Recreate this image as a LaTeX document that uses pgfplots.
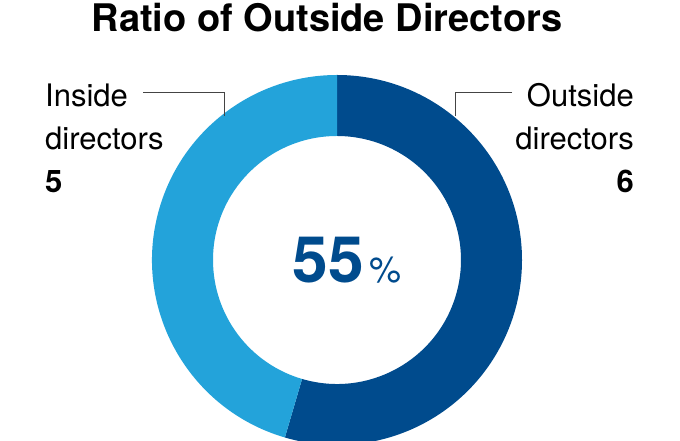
\documentclass[border=0pt]{standalone}
\usepackage{pgfplots}
\pgfplotsset{compat=1.18}
\usepackage{pgfplotstable}
\usetikzlibrary{calc}
\usepackage{fontspec}
\setmainfont{TeX Gyre Heros}

\definecolor{outblue}{HTML}{004B8D}
\definecolor{inblue}{HTML}{23A3DA}
\definecolor{leader}{HTML}{444444}

% directors on the board
\pgfplotstableread{
group   count
Outside 6
Inside  5
}\directors

\pgfplotstablegetelem{0}{count}\of\directors \let\nout=\pgfplotsretval
\pgfplotstablegetelem{1}{count}\of\directors \let\nin=\pgfplotsretval
\pgfmathsetmacro\ntot{\nout+\nin}
\pgfmathsetmacro\aend{90-360*\nout/\ntot}
\pgfmathtruncatemacro\pct{round(100*\nout/\ntot)}

\newcommand\ring[3]{% colour, start angle, end angle
  \fill[#1, overlay] ($(axis cs:337,181)+(#2:185pt)$)
    arc[start angle=#2, end angle=#3, radius=185pt]
    -- ($(axis cs:337,181)+(#3:124pt)$)
    arc[start angle=#3, end angle=#2, radius=124pt] -- cycle;}

\begin{document}
\begin{tikzpicture}
\begin{axis}[
  width=680pt, height=441pt, scale only axis,
  xmin=0, xmax=680, ymin=0, ymax=441,
  hide axis, clip=true
]
  \path (axis cs:0,0) rectangle (axis cs:680,441);
  \begin{scope}
    \clip (axis cs:0,0) rectangle (axis cs:680,441);
    \ring{outblue}{90}{\aend}
    \ring{inblue}{\aend}{-270}
  \end{scope}

  \draw[leader, line width=0.9pt] (axis cs:143,349) -- (axis cs:224,349) -- (axis cs:224,325);
  \draw[leader, line width=0.9pt] (axis cs:512,349) -- (axis cs:455,349) -- (axis cs:455,325);

  \node[anchor=base, inner sep=0] at (axis cs:327,409)
    {\fontsize{38}{44}\selectfont\bfseries Ratio of Outside Directors};

  \node[anchor=base west, inner sep=0] at (axis cs:45,334) {\fontsize{31}{37}\selectfont Inside};
  \node[anchor=base west, inner sep=0] at (axis cs:45,291) {\fontsize{31}{37}\selectfont directors};
  \node[anchor=base west, inner sep=0] at (axis cs:45,248) {\fontsize{31}{37}\selectfont\bfseries\nin};

  \node[anchor=base east, inner sep=0] at (axis cs:634,334) {\fontsize{31}{37}\selectfont Outside};
  \node[anchor=base east, inner sep=0] at (axis cs:634,291) {\fontsize{31}{37}\selectfont directors};
  \node[anchor=base east, inner sep=0] at (axis cs:634,248) {\fontsize{31}{37}\selectfont\bfseries\nout};

  \node[anchor=base east, inner sep=0, text=outblue] at (axis cs:364,158)
    {\fontsize{64}{70}\selectfont\bfseries\pct};
  \node[anchor=base west, inner sep=0, text=outblue] at (axis cs:369,158)
    {\fontsize{36}{42}\selectfont\%};
\end{axis}
\end{tikzpicture}
\end{document}
